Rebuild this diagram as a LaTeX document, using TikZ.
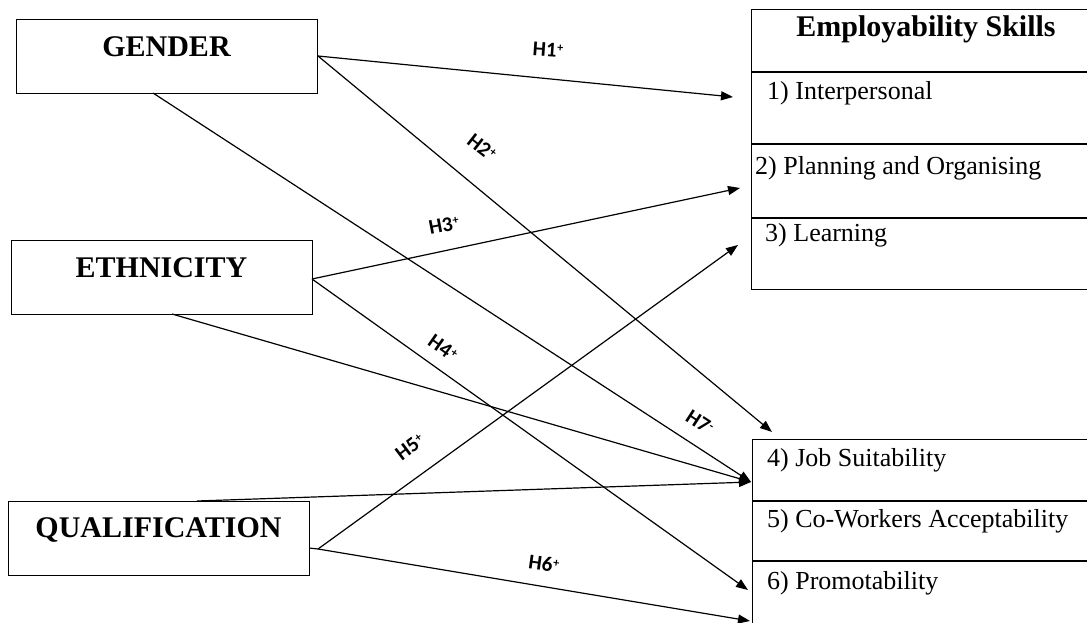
\documentclass[tikz,border=0pt]{standalone}
\usepackage{fontspec}
\setmainfont{Liberation Serif}
\newfontfamily\labfamily{Carlito}
\usetikzlibrary{arrows.meta}
\newcommand{\hsup}[1]{\kern0.6pt\raisebox{0.55ex}{\fontsize{12}{12}\selectfont #1}}
\begin{document}
\begin{tikzpicture}[x=1pt,y=-1pt,
  box/.style={draw, line width=1.2pt, inner sep=0pt, anchor=north west},
  ttl/.style={font=\fontsize{30}{34}\selectfont\bfseries, anchor=base, inner sep=0pt},
  item/.style={font=\fontsize{26}{30}\selectfont, anchor=base west, inner sep=0pt},
  lab/.style={font=\labfamily\bfseries\fontsize{21}{24}\selectfont, inner sep=0pt},
  conn/.style={line width=1.2pt},
  arr/.style={conn, -{Triangle[length=12pt,width=9pt]}}]
\clip (0,0) rectangle (1087,623);
\fill[white] (0,0) rectangle (1087,623);

% left boxes
\node[box, minimum width=301pt, minimum height=74pt] (gender) at (16,19) {};
\node[ttl] (gendert) at (166.5,57) {GENDER};
\node[box, minimum width=301pt, minimum height=74pt] (eth) at (11,240) {};
\node[ttl] (etht) at (161.5,277) {ETHNICITY};
\node[box, minimum width=301pt, minimum height=74pt] (qual) at (8,501) {};
\node[ttl] (qualt) at (158.5,537) {QUALIFICATION};

% right boxes
\node[box, minimum width=350pt, minimum height=280pt] (skills) at (751,9) {};
\node[ttl] (skillst) at (926,37) {Employability Skills};
\draw[line width=1.2pt] (751,72) -- (1101,72);
\draw[line width=1.2pt] (751,144) -- (1101,144);
\draw[line width=1.2pt] (751,218) -- (1101,218);
\node[item] (i1) at (767,100) {1) Interpersonal};
\node[item] (i2) at (755,175) {2) Planning and Organising};
\node[item] (i3) at (765,241) {3) Learning};

\node[box, minimum width=350pt, minimum height=220pt] (outc) at (752,439) {};
\draw[line width=1.2pt] (752,501) -- (1102,501);
\draw[line width=1.2pt] (752,561) -- (1102,561);
\node[item] (i4) at (767,466) {4) Job Suitability};
\node[item] (i5) at (767,527) {5) Co-Workers Acceptability};
\node[item] (i6) at (767,589) {6) Promotability};

% connector ends
\coordinate (gR) at (318,56);
\coordinate (gB) at (153,93);
\coordinate (eR) at (312,279);
\coordinate (eB) at (172,314);
\coordinate (qE) at (309,548);
\coordinate (qR) at (318,549);
\coordinate (qT) at (197,501);
\coordinate (t1) at (733,97);
\coordinate (t2) at (772,432);
\coordinate (t3) at (740,188);
\coordinate (t4) at (748,590);
\coordinate (t5) at (738,245);
\coordinate (t6) at (750,621);
\coordinate (tJ) at (751,482);

% connectors
\draw[arr] (gR) -- (t1);
\draw[arr] (gR) -- (t2);
\draw[arr] (gB) -- (tJ);
\draw[arr] (eR) -- (t3);
\draw[arr] (eR) -- (t4);
\draw[arr] (eB) -- (tJ);
\draw[conn] (qE) -- (qR);
\draw[arr] (qR) -- (t5);
\draw[arr] (qT) -- (tJ);
\draw[arr] (qR) -- (t6);

% labels
\node[lab, rotate=-4] (h1) at (548,50) {H1\hsup{+}};
\node[lab, rotate=-38] (h2) at (482,147) {H2\hsup{+}};
\node[lab, rotate=11] (h3) at (444,225) {H3\hsup{+}};
\node[lab, rotate=-35] (h4) at (443,348) {H4\hsup{+}};
\node[lab, rotate=37] (h5) at (410,447) {H5\hsup{+}};
\node[lab, rotate=-8] (h6) at (544,564) {H6\hsup{+}};
\node[lab, rotate=-33] (h7) at (700,422) {H7\hsup{-}};
\end{tikzpicture}
\end{document}
